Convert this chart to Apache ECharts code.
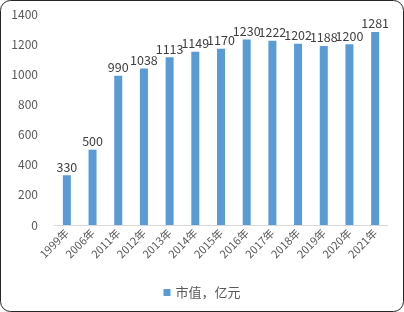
<!DOCTYPE html>
<html><head><meta charset="utf-8">
<script src="https://cdn.jsdelivr.net/npm/echarts@6/dist/echarts.min.js"></script>
<style>html,body{margin:0;padding:0;background:#fff}#c{width:404px;height:312px}</style>
</head><body><div id="c"></div>
<script>
const categories = ['1999年','2006年','2011年','2012年','2013年','2014年','2015年','2016年','2017年','2018年','2019年','2020年','2021年'];
const values = [330,500,990,1038,1113,1149,1170,1230,1222,1202,1188,1200,1281];
const seriesName = '市值，亿元';
const yTicks = {min:0,max:1400,interval:200};
const font = '"Noto Sans CJK SC","Liberation Sans",sans-serif';
const chart = echarts.init(document.getElementById('c'));
chart.setOption({
  animation:false,
  grid:{left:54,right:16,top:14,bottom:87},
  graphic:[{type:'rect',shape:{x:0.5,y:0.5,width:403,height:311,r:10},style:{fill:'none',stroke:'#262626',lineWidth:1},silent:true}],
  legend:{bottom:8,left:'center',itemWidth:7,itemHeight:7,icon:'rect',itemGap:4,
    textStyle:{color:'#595959',fontSize:13,fontFamily:font}},
  xAxis:{type:'category',data:categories,
    axisLine:{lineStyle:{color:'#d9d9d9'}},axisTick:{show:false},
    axisLabel:{rotate:45,interval:0,color:'#595959',fontSize:11,fontFamily:font,margin:6}},
  yAxis:{type:'value',min:yTicks.min,max:yTicks.max,interval:yTicks.interval,
    splitLine:{show:false},axisLine:{show:false},axisTick:{show:false},
    axisLabel:{color:'#595959',fontSize:12,fontFamily:font,margin:16,formatter:v=>String(v)}},
  series:[{name:seriesName,type:'bar',data:values,barWidth:8,
    itemStyle:{color:'#5b9bd5'},
    label:{show:true,position:'top',color:'#404040',fontSize:12.5,fontFamily:font,distance:2}}]
});
</script></body></html>
